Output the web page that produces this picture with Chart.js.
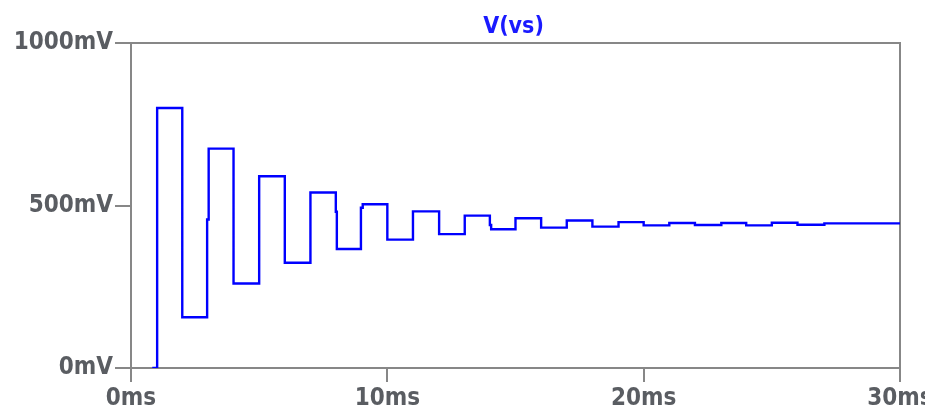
<!DOCTYPE html>
<html>
<head>
<meta charset="utf-8">
<script src="https://cdn.jsdelivr.net/npm/chart.js@4/dist/chart.umd.min.js"></script>
<style>
  html, body { margin: 0; padding: 0; background: #ffffff; }
  #wrap { width: 925px; height: 412px; }
</style>
</head>
<body>
<div id="wrap"><canvas id="c" width="925" height="412"></canvas></div>
<script>
// Step transition times (ms) and the voltage (mV) that holds from each time on
const timesMs = [0.83, 1.02, 2.0, 2.97, 3.03, 4.0, 5.0, 6.0, 7.0, 7.99, 8.03, 8.97, 9.04, 10.0, 11.0, 12.02, 13.02, 14.0, 14.05, 15.0, 16.0, 17.0, 18.0, 19.02, 20.0, 21.0, 22.0, 23.03, 24.0, 25.0, 26.0, 27.05, 30.0];
const voltsMv = [0, 800, 156, 457, 675, 260, 590, 324, 540, 481, 366, 493, 504, 395, 482, 412, 469, 440, 427, 461, 432, 454, 435, 449, 439, 446, 440, 446, 439, 447, 441, 445, 445];
const traceName = 'V(vs)';
const xTicksMs = [0, 10, 20, 30];
const yTicksMv = [0, 500, 1000];

const points = timesMs.map((t, i) => ({ x: t, y: voltsMv[i] }));

const labelFont = { family: '"DejaVu Sans Condensed", "DejaVu Sans", sans-serif', size: 24, weight: 'bold' };
const labelColor = '#5a5d62';
const frameColor = '#878787';

const framePlugin = {
  id: 'frameAndTitle',
  beforeDatasetsDraw(chart) {
    const { ctx, chartArea: a } = chart;
    ctx.save();
    ctx.strokeStyle = frameColor;
    ctx.lineWidth = 2;
    ctx.beginPath();
    ctx.moveTo(a.left, a.top);
    ctx.lineTo(a.right, a.top);
    ctx.lineTo(a.right, a.bottom);
    ctx.stroke();
    ctx.restore();
  },
  afterDraw(chart) {
    const { ctx, chartArea: a } = chart;
    ctx.save();
    ctx.fillStyle = '#1a1aff';
    ctx.font = 'bold 23px "DejaVu Sans Condensed", "DejaVu Sans", sans-serif';
    ctx.textAlign = 'center';
    ctx.textBaseline = 'middle';
    ctx.fillText(traceName, (a.left + a.right) / 2 - 2, 27);
    ctx.restore();
  }
};

new Chart(document.getElementById('c'), {
  type: 'line',
  data: {
    datasets: [{
      label: traceName,
      data: points,
      stepped: 'before',
      borderColor: '#0000ff',
      borderWidth: 2.4,
      pointRadius: 0,
      fill: false
    }]
  },
  options: {
    responsive: false,
    animation: false,
    devicePixelRatio: 1,
    layout: { padding: { left: 0, top: 43, right: 25, bottom: 0 } },
    plugins: { legend: { display: false }, title: { display: false }, tooltip: { enabled: false } },
    scales: {
      x: {
        type: 'linear',
        min: 0, max: 30,
        afterBuildTicks(scale) { scale.ticks = xTicksMs.map(v => ({ value: v })); },
        afterFit(scale) { scale.height = 44; scale.paddingLeft = 0; scale.paddingRight = 0; },
        ticks: {
          callback: v => v + 'ms',
          font: labelFont,
          color: labelColor,
          padding: 2,
          maxRotation: 0,
          autoSkip: false
        },
        grid: { drawOnChartArea: false, drawTicks: true, tickLength: 14, color: frameColor, lineWidth: 2 },
        border: { display: true, color: frameColor, width: 2 }
      },
      y: {
        type: 'linear',
        min: 0, max: 1000,
        afterBuildTicks(scale) { scale.ticks = yTicksMv.map(v => ({ value: v })); },
        afterFit(scale) { scale.width = 131; scale.paddingTop = 0; scale.paddingBottom = 0; },
        ticks: {
          callback: v => v + 'mV',
          font: labelFont,
          color: labelColor,
          padding: 2,
          autoSkip: false
        },
        grid: { drawOnChartArea: false, drawTicks: true, tickLength: 16, color: frameColor, lineWidth: 2 },
        border: { display: true, color: frameColor, width: 2 }
      }
    }
  },
  plugins: [framePlugin]
});
</script>
</body>
</html>
